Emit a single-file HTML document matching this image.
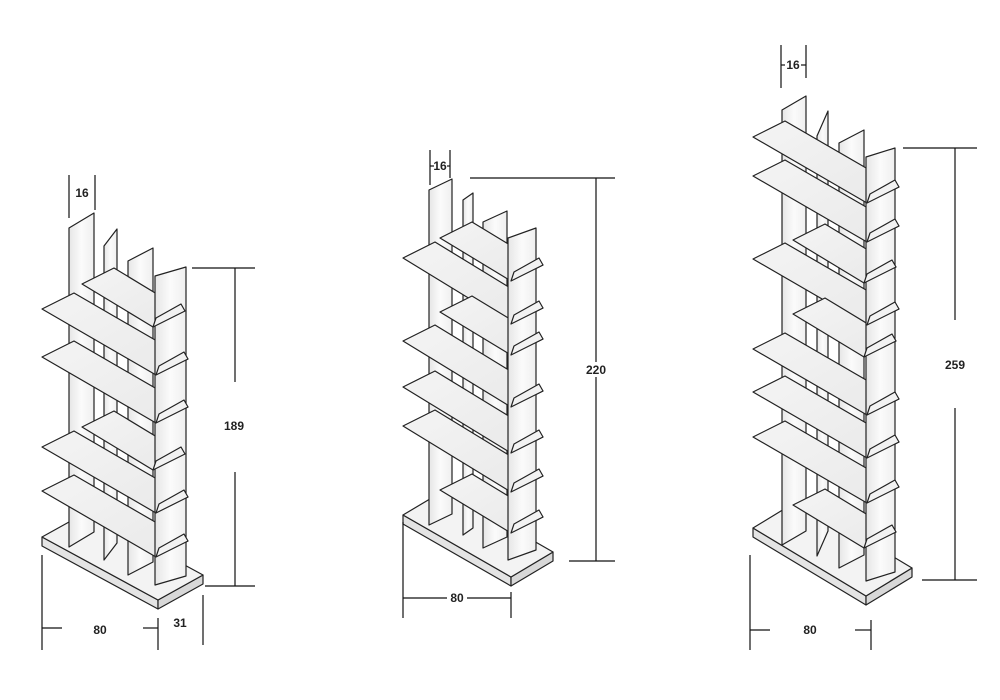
<!DOCTYPE html>
<html><head><meta charset="utf-8"><style>
html,body{margin:0;padding:0;background:#fff;width:1000px;height:700px;overflow:hidden}
svg{display:block}
text{font-family:"Liberation Sans",sans-serif;font-size:12px;fill:#222;font-weight:bold}
</style></head><body>
<svg id="s" width="1000" height="700" viewBox="0 0 1000 700" xmlns="http://www.w3.org/2000/svg">
<defs>
<linearGradient id="pg" x1="0" x2="1" y1="0" y2="0"><stop offset="0" stop-color="#e6e6e6"/><stop offset="0.5" stop-color="#fbfbfb"/><stop offset="1" stop-color="#efefef"/></linearGradient>
<linearGradient id="sg" x1="0" x2="1" y1="0" y2="1"><stop offset="0" stop-color="#f4f4f4"/><stop offset="1" stop-color="#e9e9e9"/></linearGradient>
</defs>
<g id="g" stroke="#222" stroke-width="1.2" stroke-linejoin="round"></g>
<g stroke="#111" stroke-width="1.2" fill="none">
<line x1="69" y1="175" x2="69" y2="218"/><line x1="95" y1="175" x2="95" y2="210"/>
<line x1="192" y1="268" x2="255" y2="268"/><line x1="205" y1="586" x2="255" y2="586"/>
<line x1="235" y1="268" x2="235" y2="382"/><line x1="235" y1="472" x2="235" y2="586"/>
<line x1="42" y1="555" x2="42" y2="650"/><line x1="158" y1="618" x2="158" y2="650"/>
<line x1="42" y1="628" x2="62" y2="628"/><line x1="143" y1="628" x2="158" y2="628"/>
<line x1="203" y1="595" x2="203" y2="645"/>
<line x1="430" y1="150" x2="430" y2="185"/><line x1="450" y1="150" x2="450" y2="178"/>
<line x1="430" y1="166" x2="434" y2="166"/><line x1="447" y1="166" x2="450" y2="166"/>
<line x1="470" y1="178" x2="615" y2="178"/><line x1="569" y1="561" x2="615" y2="561"/>
<line x1="596" y1="178" x2="596" y2="362"/><line x1="596" y1="377" x2="596" y2="561"/>
<line x1="403" y1="522" x2="403" y2="618"/><line x1="511" y1="592" x2="511" y2="618"/>
<line x1="403" y1="598" x2="447" y2="598"/><line x1="467" y1="598" x2="511" y2="598"/>
<line x1="781" y1="45" x2="781" y2="88"/><line x1="806" y1="45" x2="806" y2="78"/>
<line x1="781" y1="65" x2="785" y2="65"/><line x1="801" y1="65" x2="806" y2="65"/>
<line x1="903" y1="148" x2="977" y2="148"/><line x1="922" y1="580" x2="977" y2="580"/>
<line x1="955" y1="148" x2="955" y2="320"/><line x1="955" y1="408" x2="955" y2="580"/>
<line x1="750" y1="555" x2="750" y2="650"/><line x1="871" y1="620" x2="871" y2="650"/>
<line x1="750" y1="630" x2="770" y2="630"/><line x1="855" y1="630" x2="871" y2="630"/>
</g>
<text x="82" y="197" text-anchor="middle">16</text>
<text x="234" y="430" text-anchor="middle">189</text>
<text x="100" y="634" text-anchor="middle">80</text>
<text x="180" y="627" text-anchor="middle">31</text>
<text x="440" y="170" text-anchor="middle" font-size="11">16</text>
<text x="596" y="374" text-anchor="middle" font-size="11">220</text>
<text x="457" y="602" text-anchor="middle" font-size="11">80</text>
<text x="793" y="69" text-anchor="middle" font-size="11">16</text>
<text x="955" y="369" text-anchor="middle">259</text>
<text x="810" y="634" text-anchor="middle">80</text>
</svg>
<script>
var g=document.getElementById('g'),NS='http://www.w3.org/2000/svg';
function poly(pts,fill){var p=document.createElementNS(NS,'polygon');p.setAttribute('points',pts.map(function(a){return a[0]+','+a[1]}).join(' '));p.setAttribute('fill',fill);g.appendChild(p);}
function panel(p,fill){var x=p[0],w=p[1],yt=p[2],yr=p[3],yb=p[4],h=yt-yr;poly([[x,yb],[x,yt],[x+w,yr],[x+w,yb-h]],fill);}
function bc(c){
 var O=c.O,Wb=c.Wb,Db=c.Db,t=9;
 var A=O,B=[O[0]+Wb[0],O[1]+Wb[1]],C=[B[0]+Db[0],B[1]+Db[1]],D=[O[0]+Db[0],O[1]+Db[1]];
 poly([A,B,[B[0],B[1]+t],[A[0],A[1]+t]],'#e4e4e4');
 poly([B,C,[C[0],C[1]+t],[B[0],B[1]+t]],'#d8d8d8');
 poly([A,B,C,D],'#f3f3f3');
 for(var i=0;i<3;i++)panel(c.P[i],'url(#pg)');
 var W=c.W,S=c.S,Dd=[32,-16];
 var tips=[];
 c.sh.forEach(function(s){var L=[s[0],s[1]],w=s[2]?S:W;
  var P2=[L[0]+w[0],L[1]+w[1]],P3=[P2[0]+Dd[0],P2[1]+Dd[1]];
  poly([L,P2,P3,[L[0]+Dd[0],L[1]+Dd[1]]],'url(#sg)');tips.push([P2,P3]);});
 panel(c.P[3],'url(#pg)');
 tips.forEach(function(q){var P2=q[0],P3=q[1];
  poly([P2,P3,[P3[0]-4,P3[1]-7],[P2[0]+3,P2[1]-9]],'#f2f2f2');});
}
bc({O:[42,537],Wb:[116,63],Db:[45,-25],W:[114,66],S:[71,43],
 P:[[69,25,228,213,547],[104,13,246,229,560],[128,25,261,248,575],[155,31,276,267,585]],
 sh:[[82,284,1],[42,309,0],[42,357,0],[82,427,1],[42,447,0],[42,491,0]]});
bc({O:[403,515],Wb:[108,62],Db:[42,-25],W:[108,66],S:[71,43],
 P:[[429,23,190,179,525],[463,10,200,193,535],[483,24,222,211,548],[508,28,238,228,560]],
 sh:[[440,238,1],[403,258,0],[440,312,1],[403,341,0],[403,387,0],[403,426,0],[440,490,1]]});
bc({O:[753,528],Wb:[113,68],Db:[46,-28],W:[114,66],S:[71,43],
 P:[[782,24,110,96,545],[817,11,136,111,556],[839,25,143,130,568],[866,29,157,148,581]],
 sh:[[753,137,0],[753,176,0],[793,240,1],[753,259,0],[793,314,1],[753,349,0],[753,392,0],[753,437,0],[793,505,1]]});
</script>
</body></html>
